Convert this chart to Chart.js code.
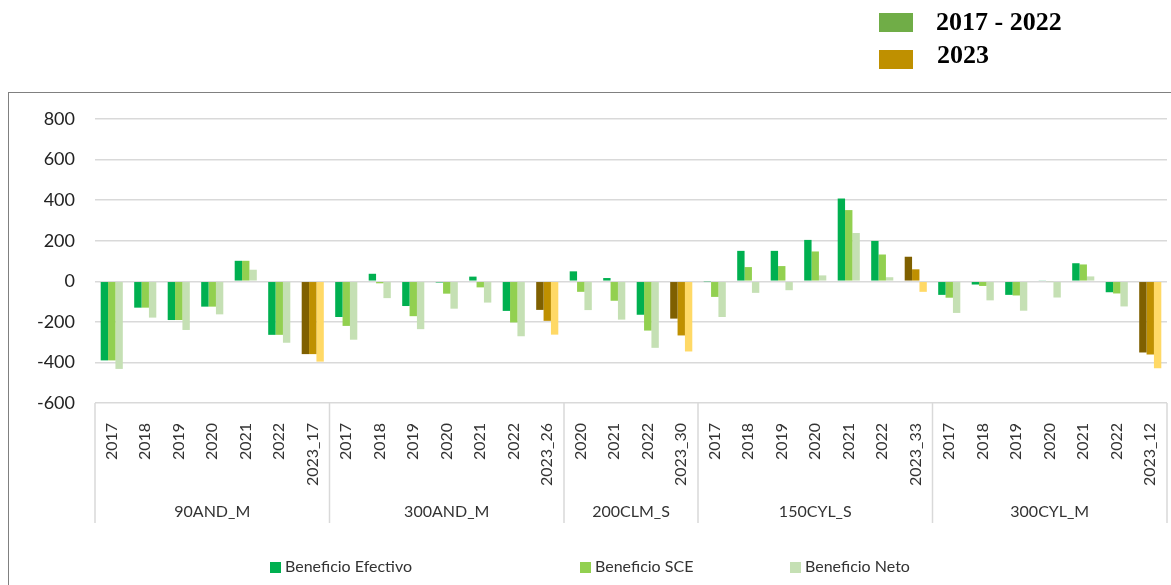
<!DOCTYPE html>
<html>
<head>
<meta charset="utf-8">
<script src="https://cdn.jsdelivr.net/npm/chart.js@4.4.1/dist/chart.umd.min.js"></script>
<style>
  body { margin: 0; background: #fff; }
  #wrap { position: relative; width: 1171px; height: 585px; overflow: hidden; }
  #frame { position: absolute; left: 8px; top: 92px; width: 1200px; height: 600px; border: 1px solid #808080; }
  #chartBox { position: absolute; left: 0; top: 0; width: 1171px; height: 585px; }
  .topKey { position: absolute; font-family: "Liberation Serif", serif; font-weight: bold; font-size: 26px; color: #000; }
  .topKey span { position: absolute; width: 34px; height: 19px; left: -57px; top: 5px; }
  .key { position: absolute; top: 556px; font-family: Lato, sans-serif; font-size: 16px; color: #333; white-space: nowrap; }
  .key span { display: inline-block; width: 11px; height: 11px; margin-right: 4px; vertical-align: -1px; }
</style>
</head>
<body>
<div id="wrap">
  <div id="frame"></div>
  <div id="chartBox"><canvas id="chart"></canvas></div>
  <div class="topKey" style="left:936px; top:7px;"><span style="background:#70AD47; top:6px;"></span>2017 - 2022</div>
  <div class="topKey" style="left:937px; top:40px;"><span style="background:#BF9000; left:-58px; top:10px;"></span>2023</div>
  <div id="legend"></div>
</div>
<script>
const groupNames = ["90AND_M", "300AND_M", "200CLM_S", "150CYL_S", "300CYL_M"];
const groupSizes = [7, 7, 4, 7, 7];
const categoryLabels = [
  "2017", "2018", "2019", "2020", "2021", "2022", "2023_17",
  "2017", "2018", "2019", "2020", "2021", "2022", "2023_26",
  "2020", "2021", "2022", "2023_30",
  "2017", "2018", "2019", "2020", "2021", "2022", "2023_33",
  "2017", "2018", "2019", "2020", "2021", "2022", "2023_12"
];
const beneficioEfectivo = [
  -390, -130, -191, -125, 101, -264, -359,
  -176, 37, -122, -6, 23, -146, -141,
  49, 16, -165, -184,
  -2, 150, 150, 204, 408, 199, 121,
  -67, -16, -67, 3, 89, -54, -351
];
const beneficioSCE = [
  -390, -130, -191, -125, 101, -264, -359,
  -220, -10, -172, -61, -30, -203, -195,
  -52, -96, -243, -267,
  -77, 70, 75, 147, 351, 132, 59,
  -81, -23, -70, -3, 83, -60, -361
];
const beneficioNeto = [
  -432, -179, -240, -163, 57, -303, -396,
  -288, -83, -236, -135, -105, -271, -263,
  -142, -189, -328, -346,
  -176, -57, -44, 29, 238, 20, -52,
  -156, -94, -145, -80, 24, -124, -429
];
const seriesNames = ["Beneficio Efectivo", "Beneficio SCE", "Beneficio Neto"];
const colors = ["#00B050", "#92D050", "#C5E0B4"];
const colors2023 = ["#7F6000", "#BF9000", "#FFD966"];

const is2023 = categoryLabels.map(l => l.startsWith("2023"));
const barColors = (i) => is2023.map(f => f ? colors2023[i] : colors[i]);

// etiquetas de grupo y separadores bajo el eje x
const groupAxis = {
  id: "groupAxis",
  afterDraw(chart) {
    const { ctx, chartArea, scales: { x } } = chart;
    const half = (x.getPixelForValue(1) - x.getPixelForValue(0)) / 2;
    ctx.save();
    ctx.strokeStyle = "#d9d9d9";
    ctx.lineWidth = 1.5;
    ctx.fillStyle = "#333";
    ctx.font = "16px Lato";
    ctx.textAlign = "center";
    ctx.textBaseline = "middle";
    const vline = (px) => {
      ctx.beginPath();
      ctx.moveTo(px, chartArea.bottom);
      ctx.lineTo(px, x.bottom);
      ctx.stroke();
    };
    vline(chartArea.left);
    let start = 0;
    groupSizes.forEach((n, g) => {
      const first = x.getPixelForValue(start);
      const last = x.getPixelForValue(start + n - 1);
      vline(last + half);
      ctx.fillText(groupNames[g], (first + last) / 2, x.bottom - 11);
      start += n;
    });
    ctx.restore();
  }
};

const ctx = document.getElementById("chart");
new Chart(ctx, {
  type: "bar",
  data: {
    labels: categoryLabels,
    datasets: [beneficioEfectivo, beneficioSCE, beneficioNeto].map((d, i) => ({
      label: seriesNames[i],
      data: d,
      backgroundColor: barColors(i),
      borderWidth: 0,
      categoryPercentage: 0.66,
      barPercentage: 1.0
    }))
  },
  options: {
    responsive: true,
    maintainAspectRatio: false,
    animation: false,
    layout: { padding: { top: 119, right: 4, bottom: 62, left: 0 } },
    plugins: {
      legend: { display: false },
      tooltip: { enabled: false }
    },
    scales: {
      x: {
        grid: { display: false },
        border: { display: false },
        ticks: { autoSkip: false, minRotation: 90, maxRotation: 90, padding: 12, color: "#333", font: { family: "Lato", size: 16 } },
        afterFit: (s) => { s.height = 120; s.paddingLeft = 0; s.paddingRight = 0; }
      },
      y: {
        min: -600,
        max: 800,
        grid: { color: "#d9d9d9", lineWidth: 1.5, drawTicks: false },
        border: { display: false },
        ticks: { stepSize: 200, padding: 20, color: "#222", font: { family: "Lato", size: 18 } },
        afterFit: (s) => { s.width = 95; }
      }
    }
  },
  plugins: [groupAxis]
});

// leyenda inferior
const legendPos = [270, 580, 790];
document.getElementById("legend").innerHTML = seriesNames.map((n, i) =>
  `<div class="key" style="left:${legendPos[i]}px"><span style="background:${colors[i]}"></span>${n}</div>`
).join("");
</script>
</body>
</html>
